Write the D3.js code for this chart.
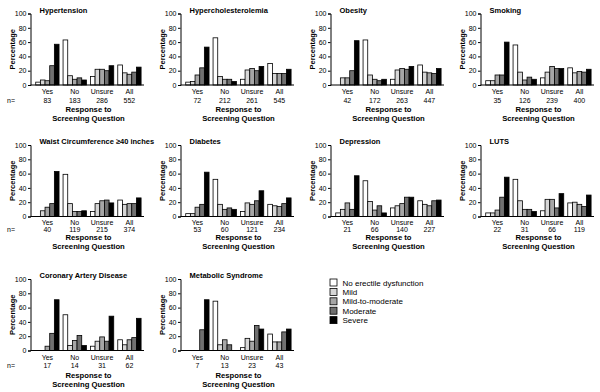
<!DOCTYPE html>
<html>
<head>
<meta charset="utf-8">
<script src="https://cdn.jsdelivr.net/npm/d3@7"></script>
<style>
  body { margin: 0; background: #fff; }
  svg { display: block; font-family: "Liberation Sans", Arial, sans-serif; }
</style>
</head>
<body>
<svg id="chart" width="600" height="392"></svg>
<script>
// categories / series
const categories = ["Yes", "No", "Unsure", "All"];
const severities = ["No erectile dysfunction", "Mild", "Mild-to-moderate", "Moderate", "Severe"];
const colors = ["#ffffff", "#d6d6d6", "#a6a6a6", "#707070", "#000000"];
const yTicks = [0, 20, 40, 60, 80, 100];

const titles = ["Hypertension", "Hypercholesterolemia", "Obesity", "Smoking",
                "Waist Circumference \u226540 inches", "Diabetes", "Depression", "LUTS",
                "Coronary Artery Disease", "Metabolic Syndrome"];

// n per response group
const nCounts = [
    [83, 183, 286, 552],
    [72, 212, 261, 545],
    [42, 172, 263, 447],
    [35, 126, 239, 400],
    [40, 119, 215, 374],
    [53, 60, 121, 234],
    [21, 66, 140, 227],
    [22, 31, 66, 119],
    [17, 14, 31, 62],
    [7, 13, 23, 43]
];

// percentages: one row per response group, one value per severity
const hypertension   = [[4, 7, 6, 27, 57], [63, 13, 8, 10, 7], [12, 22, 22, 20, 27], [28, 17, 15, 18, 25]];
const hyperchol      = [[4, 5, 14, 24, 53], [66, 12, 8, 8, 5], [8, 21, 23, 20, 26], [30, 16, 16, 16, 22]];
const obesity        = [[0, 10, 10, 20, 62], [63, 14, 8, 6, 8], [8, 21, 23, 22, 26], [28, 18, 17, 16, 23]];
const smoking        = [[6, 6, 14, 14, 60], [56, 18, 7, 11, 8], [10, 18, 26, 23, 23], [24, 17, 19, 18, 22]];
const waist          = [[0, 8, 13, 18, 63], [59, 18, 7, 7, 8], [7, 18, 22, 23, 19], [23, 17, 18, 18, 26]];
const diabetes       = [[4, 4, 13, 17, 62], [52, 17, 10, 12, 10], [7, 19, 17, 22, 36], [17, 15, 14, 18, 26]];
const depression     = [[5, 10, 19, 10, 57], [50, 21, 9, 15, 5], [12, 15, 18, 27, 27], [22, 17, 15, 22, 23]];
const luts           = [[5, 5, 9, 27, 55], [52, 22, 10, 10, 7], [8, 24, 24, 12, 32], [19, 20, 17, 14, 30]];
const cad            = [[0, 0, 6, 24, 71], [50, 7, 14, 21, 7], [6, 13, 19, 13, 48], [15, 8, 15, 18, 45]];
const metabolic      = [[0, 0, 0, 29, 71], [69, 8, 15, 8, 0], [4, 17, 13, 35, 30], [23, 12, 12, 26, 30]];

const panelData = [hypertension, hyperchol, obesity, smoking, waist, diabetes, depression, luts, cad, metabolic];

// layout
const colW = 150;
const rowTop = [13.5, 145, 279];
const plotH = 71.5;
const axisX = 30.5;
const plotRight = 143;
// label offsets below the x axis per row: category, n, line1, line2
const labelOff = [[8.5, 17.5, 27, 35.5], [8.8, 15.5, 23.5, 32], [9.5, 17.5, 27, 36]];

const svg = d3.select("#chart");

panelData.forEach((data, i) => {
    const col = i % 4, row = Math.floor(i / 4);
    const top = rowTop[row], bottom = top + plotH;
    const g = svg.append("g").attr("transform", `translate(${col * colW},0)`);

    const y = d3.scaleLinear().domain([0, 100]).range([bottom, top]);
    const x0 = d3.scaleBand().domain(categories).range([axisX + 3.3, plotRight])
        .paddingInner(0.147).paddingOuter(0.07);
    const x1 = d3.scaleBand().domain(d3.range(severities.length)).range([0, x0.bandwidth()]);

    // bars
    const groups = g.selectAll(".grp")
        .data(categories)
        .join("g")
        .attr("transform", d => `translate(${x0(d)},0)`);

    groups.selectAll("rect")
        .data((d, j) => data[j].map((v, k) => ({k, v})))
        .join("rect")
        .attr("x", d => x1(d.k))
        .attr("width", x1.bandwidth())
        .attr("y", d => y(d.v))
        .attr("height", d => bottom - y(d.v))
        .attr("fill", d => colors[d.k])
        .attr("stroke", "#000")
        .attr("stroke-width", 0.8);

    // y axis
    const yAxis = g.append("g")
        .attr("transform", `translate(${axisX},0)`)
        .call(d3.axisLeft(y).tickValues(yTicks).tickSize(2.5).tickPadding(1.5));
    yAxis.selectAll("text").style("font-size", "7px").attr("fill", "#000");
    yAxis.select(".domain").attr("stroke", "#000");

    // x axis line
    g.append("line")
        .attr("x1", axisX).attr("x2", plotRight + 1)
        .attr("y1", bottom).attr("y2", bottom)
        .attr("stroke", "#000").attr("stroke-width", 1);

    // category labels and n
    const off = labelOff[row];
    g.selectAll(".cat")
        .data(categories)
        .join("text")
        .attr("x", d => x0(d) + x0.bandwidth() / 2)
        .attr("y", bottom + off[0])
        .attr("text-anchor", "middle")
        .style("font-size", "7px")
        .text(d => d);

    g.selectAll(".nval")
        .data(nCounts[i])
        .join("text")
        .attr("x", (d, j) => x0(categories[j]) + x0.bandwidth() / 2)
        .attr("y", bottom + off[1])
        .attr("text-anchor", "middle")
        .style("font-size", "7px")
        .text(d => d);

    if (col === 0) {
        g.append("text")
            .attr("x", 7).attr("y", bottom + off[1])
            .style("font-size", "7px")
            .text("n=");
    }

    // axis titles
    g.append("text")
        .attr("x", 88.5).attr("y", bottom + off[2])
        .attr("text-anchor", "middle")
        .style("font-size", "7.7px").style("font-weight", "bold")
        .text("Response to");
    g.append("text")
        .attr("x", 88.5).attr("y", bottom + off[3])
        .attr("text-anchor", "middle")
        .style("font-size", "7.7px").style("font-weight", "bold")
        .text("Screening Question");

    g.append("text")
        .attr("transform", `translate(15,${(top + bottom) / 2}) rotate(-90)`)
        .attr("text-anchor", "middle")
        .style("font-size", "7.5px").style("font-weight", "bold")
        .text("Percentage");

    // panel title
    g.append("text")
        .attr("x", 39.5).attr("y", top - 1)
        .style("font-size", "7.5px").style("font-weight", "bold")
        .text(titles[i]);
});

// legend
const legend = svg.append("g").attr("transform", "translate(330,279)");
const item = legend.selectAll("g")
    .data(severities)
    .join("g")
    .attr("transform", (d, i) => `translate(0,${i * 9.4})`);
item.append("rect")
    .attr("width", 7).attr("height", 7)
    .attr("fill", (d, i) => colors[i])
    .attr("stroke", "#000").attr("stroke-width", 0.8);
item.append("text")
    .attr("x", 12.5).attr("y", 6.5)
    .style("font-size", "8px")
    .text(d => d);
</script>
</body>
</html>
